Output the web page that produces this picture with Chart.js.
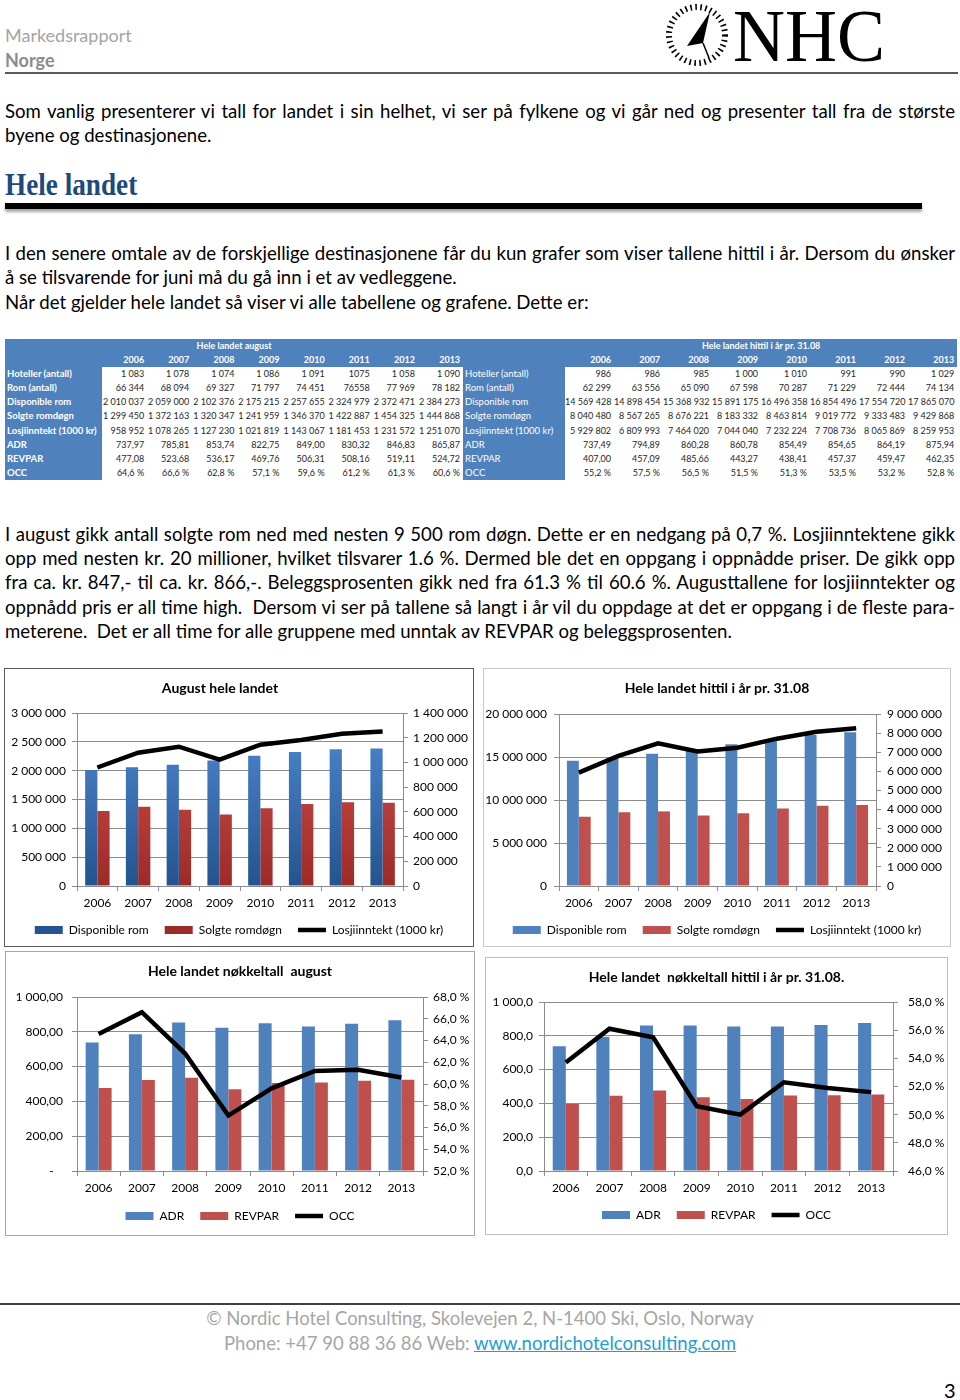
<!DOCTYPE html>
<html lang="no">
<head>
<meta charset="utf-8">
<title>Markedsrapport Norge - Hele landet</title>
<script src="https://cdn.jsdelivr.net/npm/chart.js@4.4.1/dist/chart.umd.min.js"></script>
<style>
  body { margin: 0; background: #fff; font-family: Lato, "Open Sans", sans-serif; }
  #page { position: relative; width: 960px; height: 1400px; overflow: hidden; }
  .abs { position: absolute; }
  .hdr { left: 5px; font-size: 18px; line-height: 22px; }
  .rule { position: absolute; left: 5px; width: 953px; height: 2px; background: #5a5a5a; }
  .txt { position: absolute; left: 5px; width: 950px; font-size: 18.6px; color: #000; white-space: nowrap; }
  .txt .j { text-align: justify; text-align-last: justify; }
  h1 { position: absolute; left: 5px; top: 166px; margin: 0; font-family: "Liberation Serif", serif; font-weight: bold;
       font-size: 32px; line-height: 36px; color: #1f497d; transform: scaleX(0.85); transform-origin: left center; }
  .bar { position: absolute; left: 5px; top: 203px; width: 917px; height: 6px; background: #000; box-shadow: 0 3px 3px rgba(0,0,0,0.35); }
  #tbl { position: absolute; left: 5px; top: 339px; border-collapse: collapse; table-layout: fixed; width: 952px;
         background: #4f81bd; font-size: 9px; }
  #tbl td { padding: 0 3px 0 0; height: 14.1px; line-height: 14.1px; white-space: nowrap; overflow: hidden;
            text-align: right; color: #fff; }
  #tbl td.ttl { text-align: center; font-weight: bold; padding: 0; }
  #tbl td.yr { font-weight: bold; }
  #tbl td.lab { text-align: left; padding: 0 0 0 2px; font-size: 9.5px; }
  #tbl td.b { font-weight: bold; }
  #tbl td.d { background: #fff; color: #262626; }
  .box { position: absolute; box-sizing: border-box; border: 1px solid #bfbfbf; background: #fff; }
  .box canvas { display: block; }
  .foot { position: absolute; left: 0; width: 960px; text-align: center; font-size: 18.5px; color: #a6a6a6; }
  .foot a { color: #1ea0cf; text-decoration: underline; }
</style>
</head>
<body>
<div id="page">
  <div class="abs hdr" style="top:24px;color:#a5a5a5">Markedsrapport</div>
  <div class="abs hdr" style="top:49px;color:#8c8c8c;font-weight:bold">Norge</div>
  <svg class="abs" style="left:660px;top:0" width="240" height="72" viewBox="660 0 240 72">
    <circle cx="697" cy="35" r="28" fill="none" stroke="#000" stroke-width="6" stroke-dasharray="1.6 3.4"/>
    <polygon points="710,12 687,46 703,43" fill="#000"/>
    <polyline points="703,43 709,58" stroke="#000" stroke-width="1.5" fill="none"/>
    <text x="733" y="61" font-family="Liberation Serif" font-size="74" textLength="152" lengthAdjust="spacingAndGlyphs">NHC</text>
  </svg>
  <div class="rule" style="top:72px"></div>

  <div class="txt" style="top:98.75px;line-height:24.5px">
    <div class="j">Som vanlig presenterer vi tall for landet i sin helhet, vi ser på fylkene og vi går ned og presenter tall fra de største</div>
    <div>byene og destinasjonene.</div>
  </div>

  <h1>Hele landet</h1>
  <div class="bar"></div>

  <div class="txt" style="top:240.75px;line-height:24.5px">
    <div class="j">I den senere omtale av de forskjellige destinasjonene får du kun grafer som viser tallene hittil i år. Dersom du ønsker</div>
    <div>å se tilsvarende for juni må du gå inn i et av vedleggene.</div>
    <div>Når det gjelder hele landet så viser vi alle tabellene og grafene. Dette er:</div>
  </div>

  <table id="tbl"></table>

  <div class="txt" style="top:521.85px;line-height:24.3px">
    <div class="j">I august gikk antall solgte rom ned med nesten 9 500 rom døgn. Dette er en nedgang på 0,7 %. Losjiinntektene gikk</div>
    <div class="j">opp med nesten kr. 20 millioner, hvilket tilsvarer 1.6 %. Dermed ble det en oppgang i oppnådde priser. De gikk opp</div>
    <div class="j">fra ca. kr. 847,- til ca. kr. 866,-. Beleggsprosenten gikk ned fra 61.3 % til 60.6 %. Augusttallene for losjiinntekter og</div>
    <div class="j">oppnådd pris er all time high.&nbsp; Dersom vi ser på tallene så langt i år vil du oppdage at det er oppgang i de fleste para-</div>
    <div>meterene.&nbsp; Det er all time for alle gruppene med unntak av REVPAR og beleggsprosenten.</div>
  </div>

  <div class="box" style="left:4px;top:668px;width:470px;height:279px;border-color:#595959"><canvas id="augRooms"></canvas></div>
  <div class="box" style="left:483px;top:668px;width:468px;height:279px;border-color:#c8c8c8"><canvas id="ytdRooms"></canvas></div>
  <div class="box" style="left:5px;top:951px;width:470px;height:285px;border-color:#a6a6a6"><canvas id="augKeys"></canvas></div>
  <div class="box" style="left:485px;top:957px;width:463px;height:278px;border-color:#bdbdbd"><canvas id="ytdKeys"></canvas></div>

  <div class="rule" style="left:0;width:960px;top:1303px;height:1.5px;background:#404040"></div>
  <div class="foot" style="top:1306px;line-height:24px">© Nordic Hotel Consulting, Skolevejen 2, N-1400 Ski, Oslo, Norway</div>
  <div class="foot" style="top:1331px;line-height:24px">Phone: +47 90 88 36 86 Web: <a>www.nordichotelconsulting.com</a></div>
  <div class="abs" style="left:944px;top:1378px;font-size:20px;line-height:24px;color:#000">3</div>
</div>

<script>
(() => {
    const years = ['2006', '2007', '2008', '2009', '2010', '2011', '2012', '2013'];
    const rowLabels = ['Hoteller (antall)', 'Rom (antall)', 'Disponible rom', 'Solgte romdøgn', 'Losjiinntekt (1000 kr)', 'ADR', 'REVPAR', 'OCC'];

    // august
    const augHotels = ['1 083', '1 078', '1 074', '1 086', '1 091', '1075', '1 058', '1 090'];
    const augRooms = ['66 344', '68 094', '69 327', '71 797', '74 451', '76558', '77 969', '78 182'];
    const augAvailable = [2010037, 2059000, 2102376, 2175215, 2257655, 2324979, 2372471, 2384273];
    const augSold = [1299450, 1372163, 1320347, 1241959, 1346370, 1422887, 1454325, 1444868];
    const augRevenue = [958952, 1078265, 1127230, 1021819, 1143067, 1181453, 1231572, 1251070];
    const augAdr = [737.97, 785.81, 853.74, 822.75, 849.00, 830.32, 846.83, 865.87];
    const augRevpar = [477.08, 523.68, 536.17, 469.76, 506.31, 508.16, 519.11, 524.72];
    const augOcc = [64.6, 66.6, 62.8, 57.1, 59.6, 61.2, 61.3, 60.6];

    // hittil i år pr. 31.08
    const ytdHotels = ['986', '986', '985', '1 000', '1 010', '991', '990', '1 029'];
    const ytdRooms = ['62 299', '63 556', '65 090', '67 598', '70 287', '71 229', '72 444', '74 134'];
    const ytdAvailable = [14569428, 14898454, 15368932, 15891175, 16496358, 16854496, 17554720, 17865070];
    const ytdSold = [8040480, 8567265, 8676221, 8183332, 8463814, 9019772, 9333483, 9429868];
    const ytdRevenue = [5929802, 6809993, 7464020, 7044040, 7232224, 7708736, 8065869, 8259953];
    const ytdAdr = [737.49, 794.89, 860.28, 860.78, 854.49, 854.65, 864.19, 875.94];
    const ytdRevpar = [407.00, 457.09, 485.66, 443.27, 438.41, 457.37, 459.47, 462.35];
    const ytdOcc = [55.2, 57.5, 56.5, 51.5, 51.3, 53.5, 53.2, 52.8];
    // the key figure chart for hittil i år is drawn lower than the table says
    const ytdRevparChart = [396, 446, 477, 437, 426, 447, 448, 452];
    const ytdOccChart = [53.7, 56.1, 55.5, 50.6, 50.0, 52.3, 51.9, 51.6];

    const BLUE = '#4f81bd';
    const RED = '#c0504d';
    const GRID = '#8c8c8c';

    const spaced = v => String(Math.round(v)).replace(/\B(?=(\d{3})+(?!\d))/g, ' ');
    const decimal = (v, d) => {
        const [i, f] = v.toFixed(d).split('.');
        return `${spaced(+i)},${f}`;
    };

    // table
    const augCells = [augHotels, augRooms, augAvailable.map(spaced), augSold.map(spaced), augRevenue.map(spaced),
        augAdr.map(v => decimal(v, 2)), augRevpar.map(v => decimal(v, 2)), augOcc.map(v => `${decimal(v, 1)} %`)];
    const ytdCells = [ytdHotels, ytdRooms, ytdAvailable.map(spaced), ytdSold.map(spaced), ytdRevenue.map(spaced),
        ytdAdr.map(v => decimal(v, 2)), ytdRevpar.map(v => decimal(v, 2)), ytdOcc.map(v => `${decimal(v, 1)} %`)];

    const cols = [97, ...Array(8).fill(45.125), 102, ...Array(8).fill(49)];
    let html = `<colgroup>${cols.map(w => `<col style="width:${w}px">`).join('')}</colgroup>`;
    html += `<tr><td class="ttl" colspan="9">Hele landet august</td><td></td><td class="ttl" colspan="8">Hele landet hittil i år pr. 31.08</td></tr>`;
    html += `<tr><td></td>${years.map(y => `<td class="yr">${y}</td>`).join('')}<td></td>${years.map(y => `<td class="yr">${y}</td>`).join('')}</tr>`;
    rowLabels.forEach((label, r) => {
        html += `<tr><td class="lab b">${label}</td>${augCells[r].map(c => `<td class="d">${c}</td>`).join('')}`
            + `<td class="lab">${label}</td>${ytdCells[r].map(c => `<td class="d">${c}</td>`).join('')}</tr>`;
    });
    document.getElementById('tbl').innerHTML = html;

    // charts
    Chart.defaults.font.family = "Lato, 'Open Sans', sans-serif";
    Chart.defaults.font.size = 12;
    Chart.defaults.color = '#000';

    const shade = (top, bottom) => ({chart}) => {
        const a = chart.chartArea;
        if (!a)
            return top;
        const g = chart.ctx.createLinearGradient(0, a.top, 0, a.bottom);
        g.addColorStop(0, top);
        g.addColorStop(1, bottom);
        return g;
    };

    // the first chart has its title a little left of centre
    const titleShift = {
        id: 'titleShift',
        afterLayout: (chart, args, opts) => {
            if (opts.dx && chart.titleBlock)
                chart.titleBlock.left += 2 * opts.dx;
        }
    };

    const comboChart = (id, o) => new Chart(document.getElementById(id), {
        type: 'bar',
        plugins: [titleShift],
        data: {
            labels: years,
            datasets: [
                {label: o.names[0], data: o.bars[0], backgroundColor: o.colors[0]},
                {label: o.names[1], data: o.bars[1], backgroundColor: o.colors[1]},
                {
                    type: 'line', label: o.names[2], data: o.line, yAxisID: 'y1',
                    borderColor: '#000', backgroundColor: '#000', borderWidth: 4.5,
                    pointRadius: 0, pointStyle: 'line', tension: 0, order: -1
                }
            ]
        },
        options: {
            responsive: true,
            maintainAspectRatio: false,
            animation: false,
            layout: {padding: {bottom: o.pb}},
            datasets: {bar: {categoryPercentage: 0.6, barPercentage: 1, borderWidth: 0, pointStyle: 'rect'}},
            plugins: {
                titleShift: {dx: o.titleDx || 0},
                title: {
                    display: true, text: o.title, color: '#000',
                    font: {size: 14, weight: 'bold'},
                    padding: {top: 10.6, bottom: o.titleGap}
                },
                legend: {
                    position: 'bottom',
                    labels: {
                        usePointStyle: true, pointStyleWidth: 28, boxHeight: 8, padding: 16,
                        sort: (a, b) => a.datasetIndex - b.datasetIndex
                    }
                },
                tooltip: {enabled: false}
            },
            scales: {
                x: {
                    grid: {drawOnChartArea: false, tickLength: 5, color: GRID, offset: true},
                    border: {color: GRID},
                    ticks: {padding: 5, maxRotation: 0},
                    afterFit: s => { s.height = o.xh; }
                },
                y: {
                    position: 'left', min: 0, max: o.y.max,
                    ticks: {stepSize: o.y.step, callback: o.y.fmt, padding: o.y.gap - 5},
                    grid: {color: GRID, tickLength: 5},
                    border: {color: GRID},
                    afterFit: s => { s.width = o.y.w; }
                },
                y1: {
                    position: 'right', min: o.y1.min, max: o.y1.max,
                    ticks: {stepSize: o.y1.step, callback: o.y1.fmt, padding: o.y1.gap - 5},
                    grid: {drawOnChartArea: false, color: GRID, tickLength: 5},
                    border: {color: GRID},
                    afterFit: s => { s.width = o.y1.w; }
                }
            }
        }
    });

    const roomNames = ['Disponible rom', 'Solgte romdøgn', 'Losjiinntekt (1000 kr)'];
    const keyNames = ['ADR', 'REVPAR', 'OCC'];
    const pct = v => `${decimal(v, 1)} %`;

    comboChart('augRooms', {
        title: 'August hele landet', names: roomNames, titleDx: -19,
        bars: [augAvailable, augSold], line: augRevenue,
        colors: [shade('#5089d2', '#24548f'), shade('#d4524e', '#9c2b28')],
        titleGap: 16.6, xh: 22, pb: 0,
        y: {max: 3000000, step: 500000, fmt: spaced, gap: 11, w: 72},
        y1: {min: 0, max: 1400000, step: 200000, fmt: spaced, gap: 10, w: 70}
    });

    comboChart('ytdRooms', {
        title: 'Hele landet hittil i år pr. 31.08', names: roomNames,
        bars: [ytdAvailable, ytdSold], line: ytdRevenue,
        colors: [BLUE, RED],
        titleGap: 17.6, xh: 22, pb: 0,
        y: {max: 20000000, step: 5000000, fmt: spaced, gap: 12, w: 75},
        y1: {min: 0, max: 9000000, step: 1000000, fmt: spaced, gap: 11, w: 74}
    });

    comboChart('augKeys', {
        title: 'Hele landet nøkkeltall  august', names: keyNames,
        bars: [augAdr, augRevpar], line: augOcc,
        colors: [BLUE, RED],
        titleGap: 17.6, xh: 23, pb: 3,
        y: {max: 1000, step: 200, fmt: v => (v === 0 ? '-   ' : decimal(v, 2)), gap: 14, w: 71},
        y1: {min: 52, max: 68, step: 2, fmt: pct, gap: 10, w: 51}
    });

    comboChart('ytdKeys', {
        title: 'Hele landet  nøkkeltall hittil i år pr. 31.08.', names: keyNames,
        bars: [ytdAdr, ytdRevparChart], line: ytdOccChart,
        colors: [BLUE, RED],
        titleGap: 16.6, xh: 22, pb: 3,
        y: {max: 1000, step: 200, fmt: v => decimal(v, 1), gap: 11, w: 58},
        y1: {min: 46, max: 58, step: 2, fmt: pct, gap: 15, w: 54}
    });
})();
</script>
</body>
</html>
